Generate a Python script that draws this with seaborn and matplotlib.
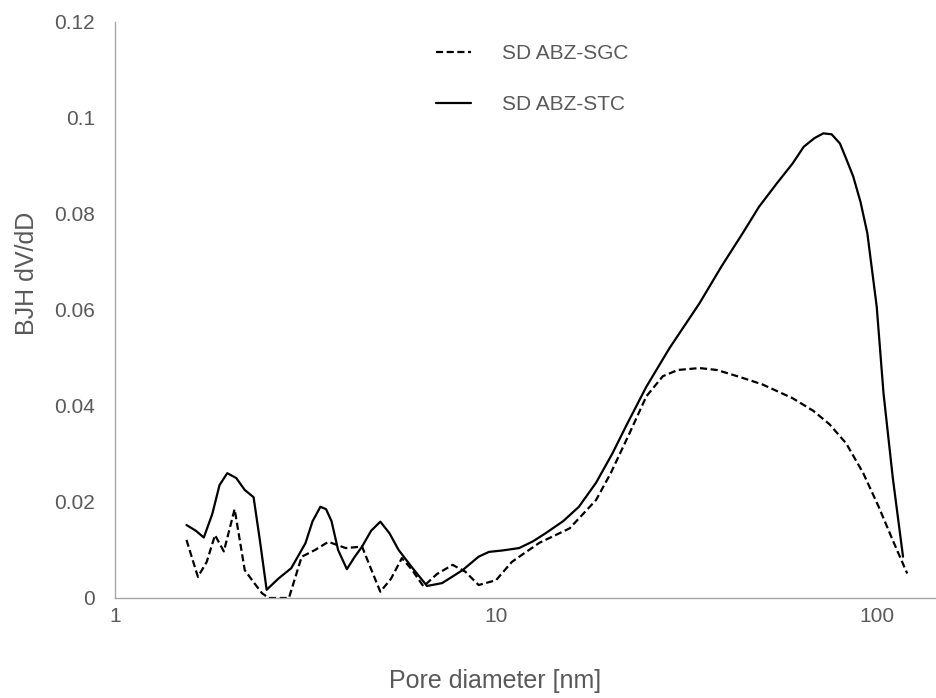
import numpy as np
import pandas as pd
import matplotlib
matplotlib.use("Agg")
import matplotlib.pyplot as plt
import seaborn as sns
from matplotlib.lines import Line2D

# ------------------------
# Data
# ------------------------

sgc_diam = [1.54, 1.65, 1.74, 1.83, 1.93, 2.06, 2.19, 2.30, 2.43, 2.53, 2.70, 2.86,
            3.09, 3.35, 3.63, 4.03, 4.45, 4.70, 4.97, 5.30, 5.66, 6.00, 6.45,
            7.00, 7.69, 8.30, 9.00, 10.0, 11.0, 11.7, 13.0, 15.6, 18.3, 20.0,
            22.4, 24.8, 27.4, 30.0, 34.2, 38.0, 43.4, 50.0, 60.1, 68.0, 75.0,
            83.0, 92.0, 101.0, 110.0, 120.0]
sgc_dvdd = [0.0121, 0.0044, 0.0075, 0.0131, 0.0097, 0.0185, 0.0058, 0.0035, 0.0010,
            0.0000, 0.0000, 0.0000, 0.0086, 0.0100, 0.0117, 0.0104, 0.0107,
            0.0060, 0.0013, 0.0040, 0.0083, 0.0060, 0.0024, 0.0050, 0.0069,
            0.0055, 0.0027, 0.0037, 0.0075, 0.0090, 0.0115, 0.0145, 0.0204,
            0.0260, 0.0343, 0.0420, 0.0462, 0.0475, 0.0479, 0.0475, 0.0461,
            0.0445, 0.0416, 0.0390, 0.0362, 0.0322, 0.0260, 0.0190, 0.0120,
            0.0051]

stc_diam = [1.54, 1.63, 1.71, 1.80, 1.88, 1.97, 2.08, 2.19, 2.31, 2.40, 2.50,
            2.60, 2.69, 2.90, 3.16, 3.30, 3.46, 3.58, 3.70, 3.85, 4.06, 4.25,
            4.45, 4.70, 4.97, 5.25, 5.55, 6.00, 6.59, 7.22, 8.17, 9.00, 9.58,
            10.4, 11.5, 12.5, 13.5, 15.0, 16.5, 18.3, 20.2, 22.0, 24.8, 28.5,
            34.2, 39.0, 44.4, 49.0, 54.6, 60.0, 64.2, 68.5, 72.3, 76.0, 79.9,
            83.0, 86.6, 90.5, 94.3, 99.8, 104.0, 110.0, 117.0]
stc_dvdd = [0.0152, 0.0140, 0.0126, 0.0175, 0.0235, 0.0260, 0.0250, 0.0225, 0.0210,
            0.0120, 0.0017, 0.0030, 0.0041, 0.0062, 0.0114, 0.0160, 0.0190,
            0.0185, 0.0160, 0.0100, 0.0060, 0.0085, 0.0107, 0.0140, 0.0159,
            0.0135, 0.0100, 0.0065, 0.0025, 0.0031, 0.0058, 0.0086, 0.0096,
            0.0099, 0.0104, 0.0118, 0.0135, 0.0160, 0.0190, 0.0240, 0.0301,
            0.0360, 0.0440, 0.0520, 0.0614, 0.0690, 0.0760, 0.0815, 0.0864,
            0.0905, 0.0940, 0.0958, 0.0968, 0.0966, 0.0947, 0.0915, 0.0878,
            0.0825, 0.0760, 0.0607, 0.0426, 0.0250, 0.0086]

sgc_label = "SD ABZ-SGC"
stc_label = "SD ABZ-STC"

x_ticks = [1, 10, 100]
x_tick_labels = ["1", "10", "100"]
y_ticks = [0, 0.02, 0.04, 0.06, 0.08, 0.1, 0.12]
y_tick_labels = ["0", "0.02", "0.04", "0.06", "0.08", "0.1", "0.12"]

# ------------------------
# Plot
# ------------------------

sns.set_theme(style="white")
plt.rcParams['font.family'] = ['Liberation Sans', 'DejaVu Sans']

grey_text = "#595959"
grey_axis = "#a6a6a6"
dash = (3.2, 1.6)

df_sgc = pd.DataFrame({"diam": sgc_diam, "dvdd": sgc_dvdd})
df_stc = pd.DataFrame({"diam": stc_diam, "dvdd": stc_dvdd})

fig = plt.figure(figsize=(9.36, 6.98), dpi=100)
ax = fig.add_axes([0.1229, 0.1433, 0.8761, 0.8252])

sns.lineplot(data=df_sgc, x="diam", y="dvdd", ax=ax, color="black",
             linewidth=1.6, linestyle=(0, dash), sort=False, estimator=None)
sns.lineplot(data=df_stc, x="diam", y="dvdd", ax=ax, color="black",
             linewidth=1.6, sort=False, estimator=None)

ax.set_xscale("log")
ax.set_xlim(1, 142)
ax.set_ylim(0, 0.12)
ax.set_xticks(x_ticks)
ax.set_xticklabels(x_tick_labels)
ax.xaxis.set_minor_locator(matplotlib.ticker.NullLocator())
ax.set_yticks(y_ticks)
ax.set_yticklabels(y_tick_labels)

ax.tick_params(axis="both", length=0, labelsize=15, labelcolor=grey_text)
ax.tick_params(axis="x", pad=6.5)
ax.tick_params(axis="y", pad=14.5)

for side in ["top", "right"]:
    ax.spines[side].set_visible(False)
for side in ["left", "bottom"]:
    ax.spines[side].set_color(grey_axis)
    ax.spines[side].set_linewidth(1.0)

ax.set_xlabel("Pore diameter [nm]", fontsize=18, color=grey_text, labelpad=31)
ax.set_ylabel("BJH dV/dD", fontsize=18, color=grey_text, labelpad=11)
ax.xaxis.label.set_x(0.463)
ax.yaxis.label.set_y(0.564)

handles = [Line2D([0], [0], color="black", linewidth=1.6, linestyle=(0, dash)),
           Line2D([0], [0], color="black", linewidth=1.6)]
leg = ax.legend(handles, [sgc_label, stc_label], loc="upper left",
                bbox_to_anchor=(0.368, 0.994), frameon=False, fontsize=15,
                handlelength=1.7, handletextpad=1.5, labelspacing=1.55)
for t in leg.get_texts():
    t.set_color(grey_text)

fig.savefig("out.png", dpi=100)
